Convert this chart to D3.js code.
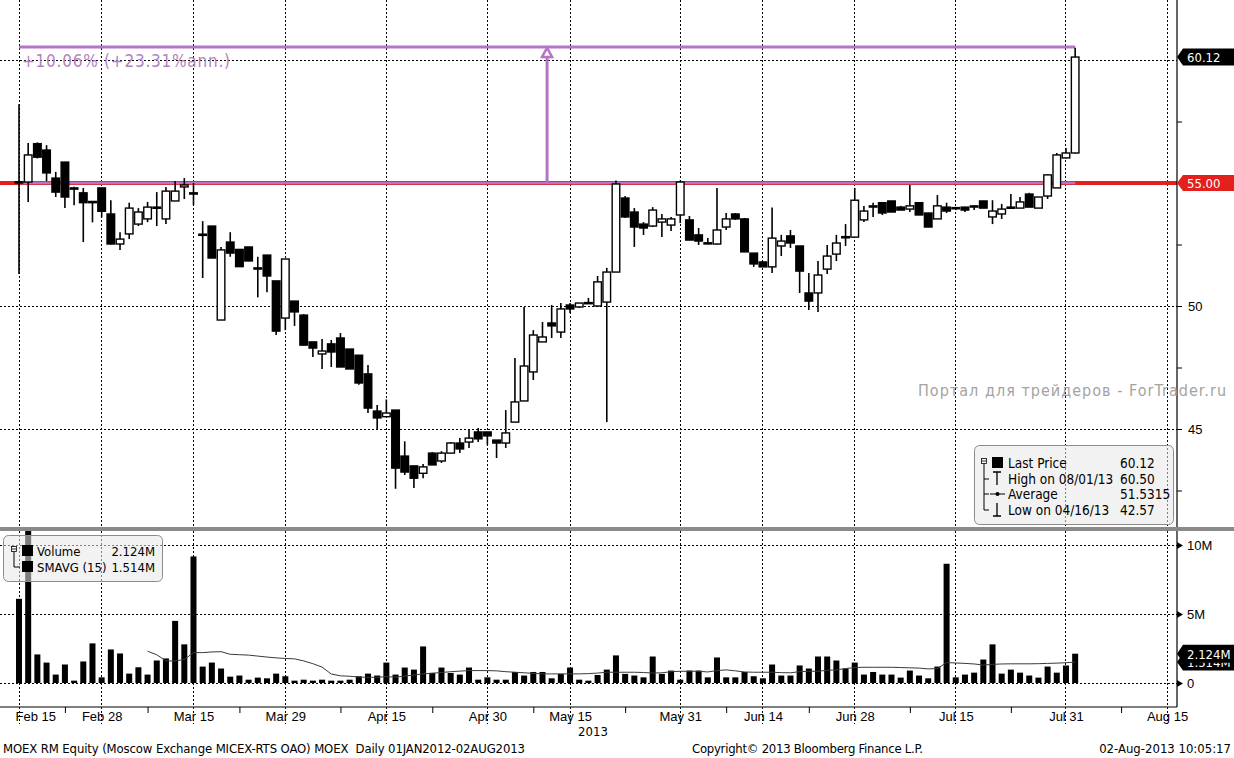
<!DOCTYPE html>
<html><head><meta charset="utf-8">
<script src="https://cdn.jsdelivr.net/npm/d3@7"></script>
<style>
html,body{margin:0;padding:0;background:#fff;}
svg{display:block;font-family:"DejaVu Sans Condensed","DejaVu Sans",sans-serif;}
text{white-space:pre;}
</style></head><body>
<svg id="c" width="1234" height="758"></svg>
<script>
// ---- data (trading-day index 0 = Feb 15 2013) ----
const openP  = [55.05,55.04,56.6,56.34,55.2,55.85,54.8,54.6,54.25,54.8,53.74,52.52,52.93,53.33,53.54,54.0,53.54,54.27,54.84,54.6,52.92,53.25,49.43,52.6,52.3,52.4,51.55,52.07,51.02,49.51,50.2,49.63,48.54,48.05,48.46,48.7,48.25,48.0,47.24,45.73,45.5,45.77,43.9,43.5,43.2,44.02,43.7,44.02,44.43,44.47,44.88,44.88,44.55,44.43,45.28,46.14,47.32,48.54,49.31,48.94,50.04,49.96,50.12,50.0,50.16,51.38,54.39,53.82,53.33,53.25,53.41,53.29,53.7,53.5,52.89,52.56,52.52,53.21,53.74,53.54,52.15,51.79,51.59,52.44,52.85,52.44,50.53,50.53,51.5,52.11,52.8,52.8,53.5,54.05,54.2,54.27,54.02,53.94,54.2,53.78,53.54,54.02,54.0,54.02,54.05,54.27,53.62,53.74,54.0,53.98,54.55,53.98,54.47,54.8,56.02,56.22];
const highP  = [58.2,56.63,56.65,56.54,55.45,55.85,54.85,54.8,54.25,54.8,54.3,53.0,54.2,53.98,54.23,54.63,54.84,55.08,55.2,55.0,53.45,53.25,52.4,53.0,52.3,52.4,52.0,52.07,51.02,51.91,50.2,49.67,48.54,48.66,48.62,48.9,48.25,48.0,47.6,45.98,46.2,45.77,44.5,43.5,43.58,44.06,44.1,44.47,44.63,45.0,45.04,44.88,44.55,45.77,47.89,49.96,49.02,49.35,50.04,50.12,50.12,50.12,50.33,51.22,51.55,55.1,54.47,53.98,53.41,54.02,53.74,53.62,55.1,53.66,53.17,52.76,54.8,53.78,53.78,53.58,52.15,51.8,54.0,52.89,53.09,52.44,51.34,51.83,52.48,52.89,53.33,54.8,54.07,54.2,54.2,54.27,54.07,54.92,54.2,53.78,54.51,54.2,54.0,54.02,54.1,54.27,54.3,54.15,54.55,54.43,54.6,54.43,55.35,56.22,56.42,60.5];
const lowP   = [51.3,54.23,56.0,55.08,54.43,53.98,54.1,52.6,53.4,53.6,52.5,52.28,52.72,53.25,53.41,53.25,53.33,54.27,54.35,54.1,51.14,51.95,49.43,52.0,51.6,51.83,50.35,50.56,48.82,49.02,49.19,48.41,47.93,47.44,47.52,47.52,47.44,46.8,45.65,45.0,45.5,42.57,43.13,42.6,43.0,43.54,43.62,44.02,44.02,44.23,44.47,44.35,43.82,44.23,45.28,46.14,46.99,48.54,48.7,48.7,49.72,49.92,50.1,49.96,45.28,51.38,53.58,52.4,52.89,53.21,52.8,53.05,53.37,52.68,52.48,52.52,52.5,53.09,53.5,52.2,51.59,51.59,51.34,52.03,52.36,50.53,49.84,49.76,51.3,51.83,52.44,52.8,53.41,53.62,53.7,53.82,53.9,53.82,53.7,53.21,53.54,53.78,53.9,53.82,53.9,53.98,53.33,53.54,53.98,53.98,54.02,53.98,54.35,54.8,56.0,56.2];
const closeP = [55.0,56.14,56.05,55.41,54.63,54.43,54.78,54.2,54.2,53.85,52.52,52.72,53.98,53.82,54.02,54.02,54.67,54.67,54.92,54.55,52.9,51.95,52.28,52.15,51.6,51.83,51.5,51.22,48.98,51.91,49.76,48.41,48.29,48.17,48.13,47.52,47.44,46.87,45.85,45.45,45.65,43.41,43.25,43.0,43.46,43.54,44.02,44.43,44.19,44.63,44.6,44.72,44.43,44.84,46.1,47.56,48.82,48.74,49.19,49.88,49.88,50.12,50.14,50.98,51.38,54.96,53.62,53.21,53.17,53.9,53.54,53.54,55.04,52.68,52.64,52.57,53.09,53.54,53.54,52.2,51.71,51.59,52.76,52.64,52.56,51.42,50.2,51.26,52.03,52.56,52.82,54.3,53.86,54.07,53.78,53.82,53.9,54.07,53.7,53.21,54.07,53.86,53.98,53.9,54.07,53.98,53.86,53.94,54.02,54.23,54.02,54.43,55.33,56.14,56.22,60.12];
const volumeM = [6.1,12,2.07,1.48,0.61,1.34,0.17,1.56,2.87,0.41,2.43,2.14,0.68,1.14,0.61,1.63,1.78,4.5,2.8,9.17,1.19,1.48,1.05,0.46,0.54,0.24,0.39,0.34,0.68,0.49,0.17,0.24,0.17,0.24,0.17,0.17,0.24,0.49,0.68,0.54,1.48,0.61,1.12,0.97,2.65,0.73,1.12,0.73,0.61,1.12,0.24,0.41,0.24,0.24,0.8,0.54,0.8,0.8,0.34,0.66,1.12,0.24,0.17,0.58,0.97,2.0,0.66,0.54,0.41,1.92,0.66,0.9,0.24,0.9,0.9,0.41,1.85,0.41,0.41,0.8,0.49,0.34,1.34,0.54,0.54,1.27,1.05,1.92,1.92,1.63,1.05,1.48,0.61,0.8,0.61,0.61,0.39,0.9,0.54,0.34,1.19,8.64,0.41,0.61,0.75,1.7,2.8,0.68,0.97,0.75,0.54,0.39,1.19,0.75,1.27,2.124];
const smaM = [null,null,null,null,null,null,null,null,null,null,null,null,null,null,
  2.3,2.05,1.6,1.6,1.7,2.2,2.2,2.25,2.27,2.08,2.05,2.02,1.95,1.88,1.82,1.78,1.75,1.6,1.4,1.15,0.65,0.52,0.49,0.43,0.41,0.41,0.46,
  0.42,0.5,0.58,0.66,0.71,0.76,0.82,0.86,0.9,0.9,0.9,0.88,0.82,0.78,0.74,0.7,0.66,0.66,0.66,0.66,0.66,0.68,0.72,0.78,0.78,0.78,0.78,0.76,0.72,0.74,0.82,0.85,0.85,0.85,0.8,0.9,0.95,0.88,0.8,0.78,0.78,0.78,0.75,0.74,0.82,0.85,0.85,
  0.92,0.95,1.05,1.12,1.14,1.14,1.14,1.14,1.12,1.1,1.08,1.02,1.05,1.48,1.45,1.42,1.38,1.3,1.35,1.38,1.39,1.39,1.39,1.4,1.42,1.44,1.47,1.514];
const tickIdx    = [0,9,19,29,40,51,60,72,81,91,102,114,125];
const tickLabels = ["Feb 15","Feb 28","Mar 15","Mar 29","Apr 15","Apr 30","May 15","May 31","Jun 14","Jun 28","Jul 15","Jul 31","Aug 15"];
const minorIdx   = [5,14,24,35,45,56,66,77,86,97,108,120];
const priceTicks = [45,50];
const priceMinor = [42.5,47.5,52.5,57.5];
const priceGrid  = [45,50,55,60];
const volTicks   = [0,5,10];
const volTickLabels = ["0","5M","10M"];
const resistance = 55.00;
const annStart = 55.00, annEnd = 60.533, annIdx = 57.5;
const annText = "+10.06% (+23.31%ann.)";
const legendNames  = ["Last Price","High on 08/01/13","Average","Low on 04/16/13"];
const legendValues = ["60.12","60.50","51.5315","42.57"];
const volLegendNames  = ["Volume","SMAVG (15)"];
const volLegendValues = ["2.124M","1.514M"];

// ---- layout ----
const svg = d3.select("#c");
const AX = 1177, P_TOP = 0, P_BOT = 527, V_TOP = 531, V_BOT = 707;
const x  = d3.scaleLinear().domain([0,125]).range([19,1167]);
const y  = d3.scaleLinear().domain([45,60]).range([429,60]);
const yv = d3.scaleLinear().domain([0,10]).range([683,545]);
const purple = "#b575c5";

const defs = svg.append("defs");
defs.append("clipPath").attr("id","cp").append("rect").attr("x",0).attr("y",P_TOP).attr("width",AX).attr("height",P_BOT-P_TOP);
defs.append("clipPath").attr("id","cv").append("rect").attr("x",0).attr("y",V_TOP).attr("width",AX).attr("height",V_BOT-V_TOP);

const dash = "2,2";
// vertical grid
svg.append("g").selectAll("line").data(tickIdx).join("line")
  .attr("x1",d=>x(d)).attr("x2",d=>x(d)).attr("y1",0).attr("y2",P_BOT)
  .attr("stroke","#000").attr("stroke-dasharray",dash).attr("shape-rendering","crispEdges");
svg.append("g").selectAll("line").data(tickIdx).join("line")
  .attr("x1",d=>x(d)).attr("x2",d=>x(d)).attr("y1",V_TOP).attr("y2",724)
  .attr("stroke","#000").attr("stroke-dasharray",dash).attr("shape-rendering","crispEdges");
// horizontal grid
svg.append("g").selectAll("line").data(priceGrid).join("line")
  .attr("x1",0).attr("x2",AX).attr("y1",d=>Math.round(y(d))).attr("y2",d=>Math.round(y(d)))
  .attr("stroke","#000").attr("stroke-dasharray",dash).attr("shape-rendering","crispEdges");
svg.append("g").selectAll("line").data(volTicks).join("line")
  .attr("x1",0).attr("x2",AX).attr("y1",d=>Math.round(yv(d))).attr("y2",d=>Math.round(yv(d)))
  .attr("stroke","#000").attr("stroke-dasharray",dash).attr("shape-rendering","crispEdges");

// resistance red line
svg.append("line").attr("x1",0).attr("x2",AX).attr("y1",y(resistance)).attr("y2",y(resistance))
  .attr("stroke","#e3201c").attr("stroke-width",4);
// purple annotation
svg.append("line").attr("x1",x(0)).attr("x2",x(115)).attr("y1",y(annStart)).attr("y2",y(annStart))
  .attr("stroke",purple).attr("stroke-width",2.5);
svg.append("line").attr("x1",x(0)).attr("x2",x(115)).attr("y1",y(annEnd)).attr("y2",y(annEnd))
  .attr("stroke",purple).attr("stroke-width",3);
svg.append("line").attr("x1",x(annIdx)).attr("x2",x(annIdx)).attr("y1",y(annStart)).attr("y2",y(annEnd)+9)
  .attr("stroke",purple).attr("stroke-width",3);
svg.append("path").attr("d",`M${x(annIdx)-5},${y(annEnd)+10}L${x(annIdx)},${y(annEnd)+1}L${x(annIdx)+5},${y(annEnd)+10}Z`)
  .attr("fill","#fff").attr("stroke",purple).attr("stroke-width",2.5);
svg.append("text").attr("x",22).attr("y",y(annEnd)+20).attr("font-size",17).attr("fill","#b283c2")
  .attr("textLength",208).attr("lengthAdjust","spacing").text(annText);

// candles
const idx = d3.range(openP.length);
const cg = svg.append("g").attr("clip-path","url(#cp)");
cg.selectAll("line.w").data(idx).join("line").attr("class","w")
  .attr("x1",i=>x(i)).attr("x2",i=>x(i)).attr("y1",i=>y(highP[i])).attr("y2",i=>y(lowP[i]))
  .attr("stroke","#000").attr("stroke-width",1.6);
cg.selectAll("rect").data(idx).join("rect")
  .attr("x",i=>x(i)-3.8).attr("width",7.6)
  .attr("y",i=>y(Math.max(openP[i],closeP[i])))
  .attr("height",i=>Math.max(1.2,Math.abs(y(openP[i])-y(closeP[i]))))
  .attr("fill",i=>closeP[i]>=openP[i]?"#fff":"#000")
  .attr("stroke","#000").attr("stroke-width",1.4);

// right price axis
svg.append("line").attr("x1",AX).attr("x2",AX).attr("y1",0).attr("y2",P_BOT).attr("stroke","#000").attr("stroke-width",1.2);
const pa = svg.append("g").attr("transform",`translate(${AX},0)`)
  .call(d3.axisRight(y).tickValues(priceTicks).tickSize(5).tickPadding(6).tickFormat(d3.format("d")));
const pm = svg.append("g").attr("transform",`translate(${AX},0)`)
  .call(d3.axisRight(y).tickValues(priceMinor).tickSize(5).tickFormat(""));
[pa,pm].forEach(g=>{g.select(".domain").remove(); g.selectAll("text").attr("font-size",13).attr("font-family",null).attr("fill","#000");});

// value boxes
function valBox(cy, txt, fill, h){
  const g = svg.append("g");
  g.append("path").attr("d",`M${AX},${cy}L${AX+6},${cy-h/2}L1234,${cy-h/2}L1234,${cy+h/2}L${AX+6},${cy+h/2}Z`).attr("fill",fill);
  g.append("text").attr("x",AX+10).attr("y",cy+5).attr("font-size",13).attr("fill","#fff").text(txt);
}
valBox(y(closeP[closeP.length-1]), d3.format(".2f")(closeP[closeP.length-1]), "#000", 17);
valBox(y(resistance), d3.format(".2f")(resistance), "#e3201c", 16);

// watermark
svg.append("text").attr("x",918).attr("y",396).attr("font-size",16).attr("fill","#a3a3a3")
  .attr("textLength",308).attr("lengthAdjust","spacing").text("Портал для трейдеров - ForTrader.ru");

// price legend
const lg = svg.append("g");
lg.append("rect").attr("x",974.5).attr("y",445.5).attr("width",199).attr("height",79).attr("rx",5)
  .attr("fill","rgba(232,232,232,0.55)").attr("stroke","#8c8c8c");
const ly = [463,479,494,510];
lg.append("rect").attr("x",981.5).attr("y",458.5).attr("width",5).attr("height",5).attr("fill","none").attr("stroke","#000").attr("stroke-width",0.8);
lg.append("line").attr("x1",982).attr("x2",986).attr("y1",461).attr("y2",461).attr("stroke","#000").attr("stroke-width",0.8);
lg.append("path").attr("d",`M984,464V510M984,479H989M984,494H989M984,510H989`).attr("stroke","#000").attr("fill","none");
lg.append("rect").attr("x",992).attr("y",457).attr("width",11).attr("height",11).attr("fill","#000");
lg.append("path").attr("d",`M993,472H1001M997,472V485`).attr("stroke","#000").attr("stroke-width",1.3);
lg.append("path").attr("d",`M990,494H1005`).attr("stroke","#000");
lg.append("circle").attr("cx",997.5).attr("cy",494).attr("r",2).attr("fill","#000");
lg.append("path").attr("d",`M997,503V516M993,516H1001`).attr("stroke","#000").attr("stroke-width",1.3);
lg.selectAll("text.n").data(legendNames).join("text").attr("class","n")
  .attr("x",1008).attr("y",(d,i)=>ly[i]+5).attr("font-size",13.5).text(d=>d);
lg.selectAll("text.v").data(legendValues).join("text").attr("class","v")
  .attr("x",1120).attr("y",(d,i)=>ly[i]+5).attr("font-size",13.5).text(d=>d);

// separator
svg.append("rect").attr("x",0).attr("y",527).attr("width",1234).attr("height",4).attr("fill","#8a8a8a");

// volume bars
const vg = svg.append("g").attr("clip-path","url(#cv)");
vg.selectAll("rect").data(idx).join("rect")
  .attr("x",i=>x(i)-3).attr("width",6)
  .attr("y",i=>yv(volumeM[i])).attr("height",i=>yv(0)-yv(volumeM[i])).attr("fill","#000");
vg.append("path").datum(idx)
  .attr("d",d3.line().defined(i=>smaM[i]!=null).x(i=>x(i)).y(i=>yv(smaM[i])))
  .attr("fill","none").attr("stroke","#3a3a3a").attr("stroke-width",1);

// volume axes
svg.append("line").attr("x1",AX).attr("x2",AX).attr("y1",V_TOP).attr("y2",V_BOT).attr("stroke","#000").attr("stroke-width",1.2);
svg.append("line").attr("x1",0).attr("x2",AX).attr("y1",V_BOT).attr("y2",V_BOT).attr("stroke","#000").attr("stroke-width",1.2);
const va = svg.append("g").attr("transform",`translate(${AX},0)`)
  .call(d3.axisRight(yv).tickValues(volTicks).tickSize(0).tickPadding(10).tickFormat((d,i)=>volTickLabels[i]));
va.select(".domain").remove();
va.selectAll("text").attr("font-size",13).attr("font-family",null).attr("fill","#000");
va.selectAll(".tick").append("path").attr("d","M0,-3.5L6,0L0,3.5Z").attr("fill","#000");

// volume value boxes (latest volume box drawn over the moving-average box, as in the source)
valBox(yv(smaM[smaM.length-1]), volLegendValues[1], "#000", 17);
valBox(yv(volumeM[volumeM.length-1]), volLegendValues[0], "#000", 18);

// volume legend
const vl = svg.append("g");
vl.append("rect").attr("x",3.5).attr("y",535.5).attr("width",159).attr("height",46).attr("rx",5)
  .attr("fill","rgba(232,232,232,0.55)").attr("stroke","#8c8c8c");
vl.append("rect").attr("x",11.5).attr("y",546.5).attr("width",5).attr("height",5).attr("fill","none").attr("stroke","#000").attr("stroke-width",0.8);
vl.append("line").attr("x1",12).attr("x2",16).attr("y1",549).attr("y2",549).attr("stroke","#000").attr("stroke-width",0.8);
vl.append("path").attr("d","M14,552V567H20").attr("stroke","#000").attr("fill","none");
vl.append("rect").attr("x",22).attr("y",545).attr("width",11).attr("height",11).attr("fill","#000");
vl.append("rect").attr("x",22).attr("y",561).attr("width",11).attr("height",11).attr("fill","#000");
vl.selectAll("text.n").data(volLegendNames).join("text").attr("class","n")
  .attr("x",37).attr("y",(d,i)=>556+i*15.5).attr("font-size",13).text(d=>d);
vl.selectAll("text.v").data(volLegendValues).join("text").attr("class","v")
  .attr("x",155).attr("text-anchor","end").attr("y",(d,i)=>556+i*15.5).attr("font-size",13).text(d=>d);

// bottom axis
const xa = svg.append("g").attr("transform",`translate(0,${V_BOT})`)
  .call(d3.axisBottom(x).tickValues(tickIdx).tickSize(0).tickPadding(5).tickFormat((d,i)=>tickLabels[i]));
xa.select(".domain").remove();
xa.selectAll("text").attr("font-size",13).attr("font-family",null).attr("fill","#000");
xa.select(".tick text").attr("text-anchor","start").attr("x",-4);
const xm = svg.append("g").attr("transform",`translate(0,${V_BOT})`)
  .call(d3.axisBottom(x).tickValues(minorIdx).tickSize(6).tickFormat(""));
xm.select(".domain").remove();
svg.append("text").attr("x",593).attr("y",736).attr("text-anchor","middle").attr("font-size",13).text("2013");

// footer
svg.append("text").attr("x",3).attr("y",753).attr("font-size",13)
  .attr("textLength",522).attr("lengthAdjust","spacing")
  .text("MOEX RM Equity (Moscow Exchange MICEX-RTS OAO) MOEX  Daily 01JAN2012-02AUG2013");
svg.append("text").attr("x",692).attr("y",753).attr("font-size",13)
  .attr("textLength",231).attr("lengthAdjust","spacing").text("Copyright© 2013 Bloomberg Finance L.P.");
svg.append("text").attr("x",1231).attr("y",753).attr("font-size",13).attr("text-anchor","end")
  .text("02-Aug-2013 10:05:17");
</script>
</body></html>
